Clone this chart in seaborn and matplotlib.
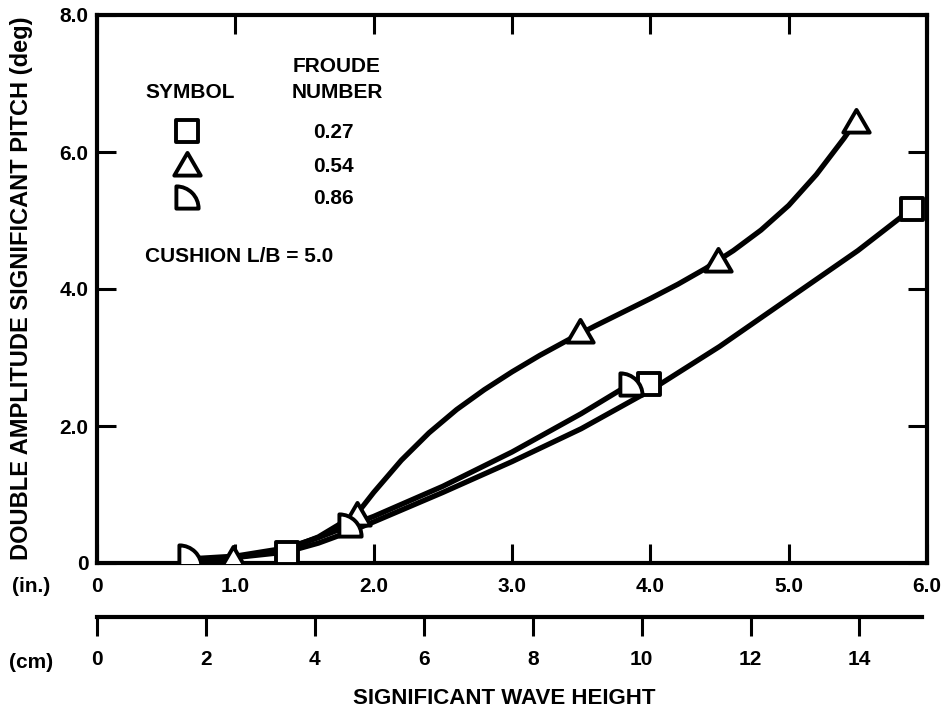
import matplotlib
matplotlib.use("Agg")
import matplotlib.pyplot as plt
from matplotlib.path import Path
from matplotlib.markers import MarkerStyle
import numpy as np
import pandas as pd
import seaborn as sns

# ---- data -------------------------------------------------------------
froude_labels = ["0.27", "0.54", "0.86"]

# measured points: significant wave height (in.) vs. pitch (deg)
sq_x = [1.37, 3.99, 5.89]
sq_y = [0.15, 2.62, 5.17]
tri_x = [0.98, 1.88, 3.49, 4.49, 5.49]
tri_y = [0.08, 0.72, 3.39, 4.43, 6.45]
qc_x = [0.67, 1.83, 3.86]
qc_y = [0.10, 0.55, 2.62]

# faired curves through each set of points
sq_curve_x = [0.70, 1.00, 1.37, 1.60, 1.83, 2.00, 2.50, 3.00, 3.50, 4.00, 4.50, 5.00, 5.50, 5.89]
sq_curve_y = [0.04, 0.08, 0.16, 0.29, 0.46, 0.60, 1.03, 1.48, 1.96, 2.52, 3.16, 3.86, 4.56, 5.17]
tri_curve_x = [0.70, 1.00, 1.37, 1.60, 1.88, 2.00, 2.20, 2.40, 2.60, 2.80, 3.00, 3.20,
               3.40, 3.60, 3.80, 4.00, 4.20, 4.40, 4.60, 4.80, 5.00, 5.20, 5.40, 5.49]
tri_curve_y = [0.04, 0.08, 0.20, 0.38, 0.72, 1.03, 1.50, 1.90, 2.24, 2.53, 2.79, 3.03,
               3.25, 3.46, 3.66, 3.86, 4.07, 4.30, 4.56, 4.86, 5.22, 5.67, 6.20, 6.46]
qc_curve_x = [0.67, 1.00, 1.37, 1.60, 1.83, 2.00, 2.50, 3.00, 3.50, 3.86]
qc_curve_y = [0.06, 0.10, 0.22, 0.37, 0.55, 0.68, 1.12, 1.62, 2.18, 2.62]

x_ticks = [0, 1, 2, 3, 4, 5, 6]
x_tick_labels = ["0", "1.0", "2.0", "3.0", "4.0", "5.0", "6.0"]
y_ticks = [0, 2, 4, 6, 8]
y_tick_labels = ["0", "2.0", "4.0", "6.0", "8.0"]
cm_ticks = [0, 2, 4, 6, 8, 10, 12, 14]
cm_tick_labels = ["0", "2", "4", "6", "8", "10", "12", "14"]

# ---- style ------------------------------------------------------------
sns.set_theme(style="white")
plt.rcParams["font.family"] = ["Liberation Sans", "DejaVu Sans"]
plt.rcParams["font.weight"] = "bold"

INK = "black"
LW = 3.8
SPINE = 3.0
MEW = 2.8

# quarter-disc marker: flat left and bottom, rounded upper right
arc = Path.arc(0, 90)
qverts = np.vstack([[0, 0], arc.vertices, [0, 0]]) - 0.5
qcodes = [Path.MOVETO, Path.LINETO] + list(arc.codes[1:]) + [Path.CLOSEPOLY]
quarter_path = Path(qverts, qcodes)

# near-equilateral triangle
tri_path = Path([(-0.5, -0.42), (0.5, -0.42), (0.0, 0.44), (-0.5, -0.42)],
                [Path.MOVETO, Path.LINETO, Path.LINETO, Path.CLOSEPOLY])

mk_square = MarkerStyle("s", joinstyle="round")
mk_tri = MarkerStyle(tri_path, joinstyle="round")
mk_quarter = MarkerStyle(quarter_path, joinstyle="round")

W, H = 941, 712
fig = plt.figure(figsize=(W / 100, H / 100), dpi=100)
L, R, T, B = 97, 927, 15, 563
ax = fig.add_axes([L / W, 1 - B / H, (R - L) / W, (B - T) / H])

curves = pd.concat([
    pd.DataFrame({"x": sq_curve_x, "y": sq_curve_y, "fn": froude_labels[0]}),
    pd.DataFrame({"x": tri_curve_x, "y": tri_curve_y, "fn": froude_labels[1]}),
    pd.DataFrame({"x": qc_curve_x, "y": qc_curve_y, "fn": froude_labels[2]}),
])
sns.lineplot(data=curves, x="x", y="y", units="fn", estimator=None, sort=False,
             color=INK, lw=LW, ax=ax, legend=False, zorder=2)

SQ, TR, QC = 15.5, 19, 16
marker_kw = dict(color="white", edgecolor=INK, linewidth=MEW, zorder=3, ax=ax, legend=False)
sns.scatterplot(x=sq_x, y=sq_y, marker=mk_square, s=SQ ** 2, **marker_kw)
sns.scatterplot(x=tri_x, y=tri_y, marker=mk_tri, s=TR ** 2, **marker_kw)
sns.scatterplot(x=qc_x, y=qc_y, marker=mk_quarter, s=QC ** 2, **marker_kw)

ax.set_xlim(0, 6)
ax.set_ylim(0, 8)
ax.set_xticks(x_ticks)
ax.set_xticklabels(x_tick_labels)
ax.set_yticks(y_ticks)
ax.set_yticklabels(y_tick_labels)
ax.tick_params(axis="both", direction="in", length=14, width=2.2, color=INK,
               labelsize=15, labelcolor=INK)
ax.tick_params(axis="x", top=True, bottom=True, pad=10)
ax.tick_params(axis="y", left=True, right=True, pad=6)
for lab in ax.get_xticklabels() + ax.get_yticklabels():
    lab.set_fontweight("bold")
for s in ax.spines.values():
    s.set_visible(True)
    s.set_color(INK)
    s.set_linewidth(SPINE)
ax.set_xlabel("")
ax.set_ylabel("")

# legend block inside the plot
def axpos(px, py):
    return (px - L) / (R - L), (B - py) / (B - T)

tkw = dict(transform=ax.transAxes, fontsize=15, fontweight="bold", color=INK)
ax.text(*axpos(190, 93), "SYMBOL", ha="center", va="center", **tkw)
ax.text(*axpos(337, 67), "FROUDE", ha="center", va="center", **tkw)
ax.text(*axpos(337, 93), "NUMBER", ha="center", va="center", **tkw)
leg_markers = [mk_square, mk_tri, mk_quarter]
leg_sizes = [SQ, TR, QC]
leg_rows = [131, 164, 197]
for lab, mk, ms, py in zip(froude_labels, leg_markers, leg_sizes, leg_rows):
    ax.plot(*axpos(187, py), marker=mk, ms=ms, mfc="white", mec=INK, mew=MEW,
            transform=ax.transAxes, clip_on=False)
    ax.text(*axpos(333, py + 2), lab, ha="center", va="center", **tkw)
ax.text(*axpos(145, 257), "CUSHION L/B = 5.0", ha="left", va="center", **tkw)

# unit tags and titles
fig.text(31 / W, 1 - 586 / H, "(in.)", ha="center", va="center", fontsize=15,
         fontweight="bold", color=INK)
fig.text(31 / W, 1 - 662 / H, "(cm)", ha="center", va="center", fontsize=15,
         fontweight="bold", color=INK)
fig.text(504 / W, 1 - 698 / H, "SIGNIFICANT WAVE HEIGHT", ha="center", va="center",
         fontsize=16, fontweight="bold", color=INK)
fig.text(22 / W, 1 - 288 / H, "DOUBLE AMPLITUDE SIGNIFICANT PITCH (deg)", ha="center",
         va="center", rotation=90, fontsize=17, fontweight="bold", color=INK)

# centimetre scale below the inch axis
CY = 617
cax = fig.add_axes([L / W, 1 - CY / H, (R - L) / W, 1e-4])
cax.set_xlim(0, 6 * 2.54)
cax.set_ylim(0, 1)
cax.set_facecolor("none")
for name, s in cax.spines.items():
    s.set_visible(name == "bottom")
cax.spines["bottom"].set_linewidth(SPINE)
cax.spines["bottom"].set_color(INK)
cax.spines["bottom"].set_bounds(0, 15.15)
cax.set_yticks([])
cax.set_xticks(cm_ticks)
cax.set_xticklabels(cm_tick_labels)
cax.tick_params(axis="x", direction="out", length=14, width=2.2, color=INK,
                labelsize=15, labelcolor=INK, pad=10, bottom=True, top=False)
for lab in cax.get_xticklabels():
    lab.set_fontweight("bold")

fig.savefig("out.png", dpi=100, facecolor="white")
